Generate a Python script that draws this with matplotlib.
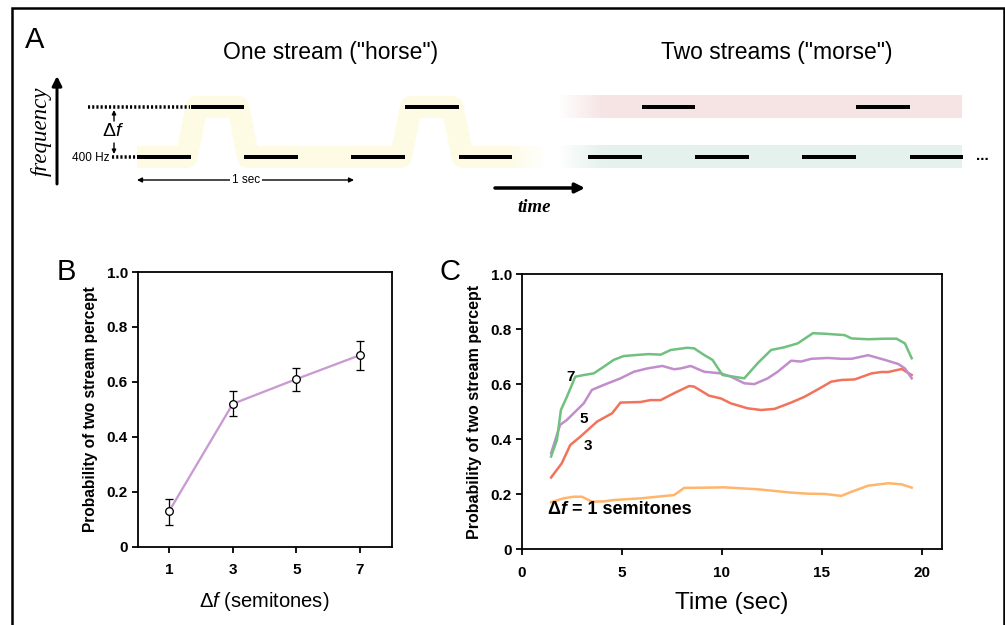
import numpy as np
import matplotlib
matplotlib.use("Agg")
import matplotlib.pyplot as plt
from matplotlib.patches import Rectangle

plt.rcParams['font.family'] = ['Liberation Sans', 'DejaVu Sans']
plt.rcParams['mathtext.fontset'] = 'custom'
plt.rcParams['mathtext.rm'] = 'Liberation Sans'
plt.rcParams['mathtext.it'] = 'Liberation Sans:italic'
plt.rcParams['mathtext.bf'] = 'Liberation Sans:bold'

# ---------------- data ----------------
# Panel A: ABA_ tone pattern (slot indices)
one_low_slots = [0, 2, 4, 6]
one_high_slots = [1, 5]
two_low_slots = [0, 2, 4, 6]
two_high_slots = [1, 5]

# Panel B
delta_f = [1, 3, 5, 7]
prob_b = [0.13, 0.52, 0.61, 0.697]
err_lo = [0.05, 0.045, 0.043, 0.052]
err_hi = [0.045, 0.047, 0.042, 0.053]
b_ticks_x = [1, 3, 5, 7]

# Panel C
t7 = [1.47, 1.76, 1.96, 2.26, 2.68, 3.1, 3.6, 4.1, 4.6, 5.1, 5.94, 6.36, 6.95, 7.45,
      8.28, 8.62, 9.12, 9.54, 10.04, 10.6, 11.13, 11.8, 12.47, 13.14, 13.8, 14.56,
      15.15, 16.15, 16.49, 17.32, 18.16, 18.74, 19.16, 19.5]
p7 = [0.337, 0.397, 0.506, 0.554, 0.627, 0.633, 0.639, 0.663, 0.688, 0.702, 0.707,
      0.709, 0.707, 0.724, 0.732, 0.73, 0.706, 0.688, 0.633, 0.627, 0.621, 0.676,
      0.724, 0.734, 0.748, 0.785, 0.783, 0.778, 0.766, 0.763, 0.765, 0.765, 0.748, 0.694]
t5 = [1.47, 1.92, 2.26, 2.68, 3.1, 3.51, 4.1, 4.94, 5.61, 6.28, 7.03, 7.62, 7.95, 8.45,
      9.12, 9.96, 10.46, 11.13, 11.63, 12.3, 12.8, 13.47, 13.97, 14.48, 15.31, 15.98,
      16.49, 17.32, 18.16, 18.83, 19.16, 19.5]
p5 = [0.349, 0.452, 0.47, 0.5, 0.53, 0.579, 0.597, 0.621, 0.645, 0.657, 0.666, 0.654,
      0.657, 0.666, 0.645, 0.639, 0.627, 0.603, 0.6, 0.621, 0.645, 0.685, 0.682, 0.692,
      0.695, 0.692, 0.692, 0.705, 0.688, 0.673, 0.657, 0.621]
t3 = [1.47, 2.0, 2.43, 2.93, 3.77, 4.52, 4.94, 5.94, 6.44, 6.95, 7.62, 8.37, 8.62, 9.37,
      9.96, 10.46, 11.3, 11.97, 12.64, 13.47, 14.14, 14.81, 15.48, 15.98, 16.65, 17.49,
      17.99, 18.33, 19.0, 19.5]
p3 = [0.261, 0.312, 0.379, 0.409, 0.464, 0.494, 0.533, 0.535, 0.542, 0.542, 0.567, 0.593,
      0.591, 0.558, 0.548, 0.53, 0.512, 0.506, 0.51, 0.533, 0.554, 0.581, 0.609, 0.615,
      0.617, 0.639, 0.644, 0.644, 0.655, 0.633]
t1 = [1.47, 2.09, 2.59, 3.01, 3.51, 4.1, 4.6, 5.94, 6.78, 7.62, 8.12, 9.29, 10.13, 11.8,
      13.47, 14.31, 15.15, 15.98, 16.49, 17.32, 18.33, 19.0, 19.5]
p1 = [0.171, 0.185, 0.191, 0.191, 0.173, 0.174, 0.179, 0.185, 0.191, 0.197, 0.223, 0.224,
      0.225, 0.218, 0.206, 0.202, 0.201, 0.194, 0.209, 0.231, 0.24, 0.236, 0.224]
y_ticks = [0, 0.2, 0.4, 0.6, 0.8, 1.0]
y_ticklabels = ['0', '0.2', '0.4', '0.6', '0.8', '1.0']
c_ticks_x = [0, 5, 10, 15, 20]

# ---------------- figure ----------------
W, H = 1005, 625
fig = plt.figure(figsize=(W / 100, H / 100), dpi=100)
axA = fig.add_axes([0, 0, 1, 1], zorder=0)
axA.set_xlim(0, W)
axA.set_ylim(H, 0)
axA.axis('off')

def lw(px):
    return px * 72 / 100

# outer frame
axA.plot([12, 12, 1004, 1004], [640, 8, 8, 640], color='black', lw=lw(2.5),
         solid_joinstyle='miter', clip_on=False)

# ----- Panel A -----
axA.text(35, 40, 'A', fontsize=21, ha='center', va='center')
axA.text(331, 52, 'One stream ("horse")', fontsize=16.5, ha='center', va='center')
axA.text(777, 52, 'Two streams ("morse")', fontsize=16.5, ha='center', va='center')

slot_w = 53.6
x0_one, x0_two = 137, 588
y_low, y_high = 157, 107

# yellow band
yellow = '#fdfbe3'
bx = [x0_one]
by = [y_low]
for k in one_high_slots:
    s = x0_one + k * slot_w
    e = s + slot_w
    bx += [s - 4, s + 6, e - 6, e + 4]
    by += [y_low, y_high, y_high, y_low]
bx.append(545)
by.append(y_low)
axA.plot(bx, by, color=yellow, lw=lw(22), solid_joinstyle='round',
         solid_capstyle='butt', zorder=1)
grad = np.ones((1, 100, 4))
grad[0, :, 3] = np.linspace(0, 1, 100)
axA.imshow(grad, extent=(505, 547, 170, 144), aspect='auto', zorder=2,
           interpolation='bilinear')

# red / green bands
axA.add_patch(Rectangle((560, 95), 402, 23, color='#f6e3e3', lw=0, zorder=1))
axA.add_patch(Rectangle((560, 145), 402, 22.5, color='#e4f1ec', lw=0, zorder=1))
grad2 = np.ones((1, 100, 4))
grad2[0, :, 3] = np.linspace(1, 0, 100)
axA.imshow(grad2, extent=(558, 605, 170, 92), aspect='auto', zorder=2,
           interpolation='bilinear')
axA.set_xlim(0, W)
axA.set_ylim(H, 0)

bar_lw = lw(4)
for k in one_low_slots:
    s = x0_one + k * slot_w
    axA.plot([s, s + slot_w], [y_low, y_low], color='black', lw=bar_lw,
             solid_capstyle='butt', zorder=3)
for k in one_high_slots:
    s = x0_one + k * slot_w
    axA.plot([s, s + slot_w], [y_high, y_high], color='black', lw=bar_lw,
             solid_capstyle='butt', zorder=3)
for k in two_low_slots:
    s = x0_two + k * slot_w
    axA.plot([s, s + slot_w], [y_low, y_low], color='black', lw=bar_lw,
             solid_capstyle='butt', zorder=3)
for k in two_high_slots:
    s = x0_two + k * slot_w
    axA.plot([s, s + slot_w], [y_high, y_high], color='black', lw=bar_lw,
             solid_capstyle='butt', zorder=3)
axA.text(982, 156, '...', fontsize=11, fontweight='bold', ha='center', va='center')

# dotted reference lines
axA.plot([88, 190], [y_high, y_high], color='black', lw=lw(3.5),
         linestyle=(0, (0.6, 0.6)), solid_capstyle='butt', zorder=3)
axA.plot([112, 137], [y_low, y_low], color='black', lw=lw(3.5),
         linestyle=(0, (0.6, 0.6)), zorder=3)
axA.text(109, 158, '400 Hz', fontsize=8.5, ha='right', va='center')

# delta f arrows
axA.annotate('', xy=(114, 110), xytext=(114, 121),
             arrowprops=dict(arrowstyle='-|>', color='black', lw=1,
                             mutation_scale=6, shrinkA=0, shrinkB=0))
axA.annotate('', xy=(114, 154), xytext=(114, 143),
             arrowprops=dict(arrowstyle='-|>', color='black', lw=1,
                             mutation_scale=6, shrinkA=0, shrinkB=0))
axA.text(113, 132, r'$\Delta f$', fontsize=14, ha='center', va='center')

# frequency axis
axA.annotate('', xy=(57, 76), xytext=(57, 184),
             arrowprops=dict(arrowstyle='-|>', color='black', lw=lw(3),
                             mutation_scale=14, shrinkA=0, shrinkB=0))
axA.text(41, 131, 'frequency', family='Liberation Serif', style='italic',
         fontsize=16.5, rotation=90, ha='center', va='center')

# 1 sec arrow
axA.annotate('', xy=(137, 180), xytext=(354, 180),
             arrowprops=dict(arrowstyle='<|-|>', color='black', lw=1,
                             mutation_scale=7, shrinkA=0, shrinkB=0))
axA.text(246, 180, '1 sec', fontsize=8.5, ha='center', va='center',
         bbox=dict(facecolor='white', edgecolor='none', pad=1.5))

# time arrow
axA.annotate('', xy=(585, 188), xytext=(495, 188),
             arrowprops=dict(arrowstyle='-|>', color='black', lw=lw(3.5),
                             mutation_scale=14, shrinkA=0, shrinkB=0))
axA.text(534, 207, 'time', family='Liberation Serif', style='italic',
         fontweight='bold', fontsize=13.5, ha='center', va='center')

# ----- Panel B -----
axA.text(66, 272, 'B', fontsize=21, ha='center', va='center')
axB = fig.add_axes([137.5 / W, 1 - 546.7 / H, 254 / W, 274.7 / H], zorder=2)
axB.plot(delta_f, prob_b, color='#c99bd3', lw=lw(2.3), zorder=2)
axB.errorbar(delta_f, prob_b, yerr=[err_lo, err_hi], fmt='none', ecolor='black',
             elinewidth=lw(1.3), capsize=3, capthick=lw(1.3), zorder=3)
axB.plot(delta_f, prob_b, 'o', ms=5.5, mfc='white', mec='black', mew=lw(1.3), zorder=4)
axB.set_xlim(0, 8)
axB.set_ylim(0, 1)
axB.set_xticks(b_ticks_x)
axB.set_xticklabels([str(v) for v in b_ticks_x])
axB.set_xlabel(r'$\Delta f$ (semitones)', fontsize=14.5, labelpad=9)
axB.set_ylabel('Probability of two stream percept', fontsize=11.2,
               fontweight='bold', labelpad=6)

# ----- Panel C -----
axA.text(450, 272, 'C', fontsize=21, ha='center', va='center')
axC = fig.add_axes([521.7 / W, 1 - 549.3 / H, 420 / W, 275.3 / H], zorder=2)
axC.plot(t1, p1, color='#ffb56c', lw=lw(2.5))
axC.plot(t3, p3, color='#f2735b', lw=lw(2.5))
axC.plot(t5, p5, color='#c18dcc', lw=lw(2.5))
axC.plot(t7, p7, color='#70c07f', lw=lw(2.5))
axC.set_xlim(0, 21)
axC.set_ylim(0, 1)
axC.set_xticks(c_ticks_x)
axC.set_xticklabels([str(v) for v in c_ticks_x])
axC.set_xlabel('Time (sec)', fontsize=17.5, labelpad=9)
axC.set_ylabel('Probability of two stream percept', fontsize=11.5,
               fontweight='bold', labelpad=6)
axC.text(2.45, 0.625, '7', fontsize=11, fontweight='bold', ha='center', va='center')
axC.text(3.1, 0.475, '5', fontsize=11, fontweight='bold', ha='center', va='center')
axC.text(3.3, 0.375, '3', fontsize=11, fontweight='bold', ha='center', va='center')
t_a = axC.text(1.3, 0.13, 'Δ', fontsize=13, fontweight='bold', ha='left', va='baseline')
t_b = axC.annotate('f', xy=(1, 0), xycoords=t_a, fontsize=13, fontweight='bold',
                   style='italic', ha='left', va='bottom')
axC.annotate(' = 1 semitones', xy=(1, 0), xycoords=t_b, fontsize=13,
             fontweight='bold', ha='left', va='bottom')

for ax in (axB, axC):
    ax.set_yticks(y_ticks)
    ax.set_yticklabels(y_ticklabels)
    for sp in ax.spines.values():
        sp.set_linewidth(lw(1.8))
    ax.tick_params(direction='out', length=4, width=lw(1.8), labelsize=11, pad=3)
    ax.tick_params(axis='x', pad=8)
    for lab in ax.get_xticklabels() + ax.get_yticklabels():
        lab.set_fontweight('bold')
    ax.set_facecolor('none')

fig.savefig('out.png', dpi=100)
